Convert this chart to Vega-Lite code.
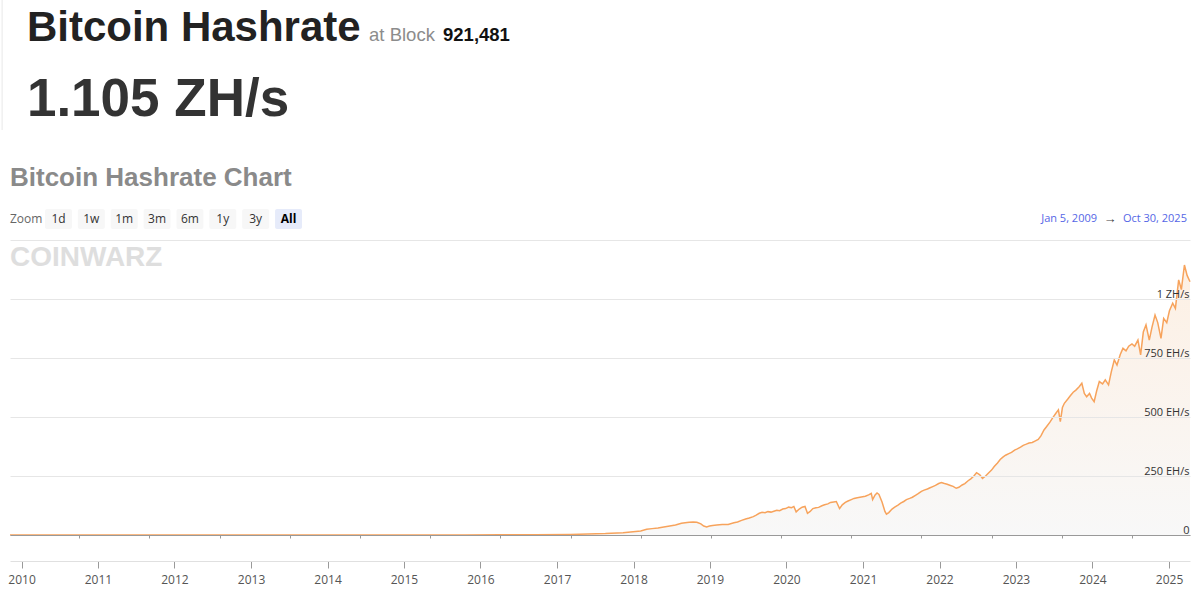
{
  "$schema": "https://vega.github.io/schema/vega-lite/v6.json",
  "width": 1180,
  "height": 295,
  "autosize": "none",
  "padding": {"left": 10, "top": 240, "right": 10, "bottom": 65},
  "background": "#ffffff",
  "config": {"view": {"stroke": null}, "font": "Open Sans"},
  "datasets": {
    "hashrate": [
      {"date": "2009-01-05", "hashrate": 0},
      {"date": "2010-01-01", "hashrate": 0},
      {"date": "2011-01-01", "hashrate": 0},
      {"date": "2012-01-01", "hashrate": 0.01},
      {"date": "2013-01-01", "hashrate": 0.02},
      {"date": "2014-01-01", "hashrate": 0.015},
      {"date": "2014-07-01", "hashrate": 0.12},
      {"date": "2015-01-01", "hashrate": 0.3},
      {"date": "2015-07-01", "hashrate": 0.4},
      {"date": "2016-01-01", "hashrate": 0.8},
      {"date": "2016-07-01", "hashrate": 1.4},
      {"date": "2017-01-01", "hashrate": 2.5},
      {"date": "2017-04-01", "hashrate": 4},
      {"date": "2017-07-01", "hashrate": 6},
      {"date": "2017-10-01", "hashrate": 10},
      {"date": "2018-01-01", "hashrate": 17},
      {"date": "2018-02-01", "hashrate": 24},
      {"date": "2018-03-01", "hashrate": 27},
      {"date": "2018-04-01", "hashrate": 30},
      {"date": "2018-05-01", "hashrate": 34},
      {"date": "2018-06-01", "hashrate": 38},
      {"date": "2018-07-01", "hashrate": 42},
      {"date": "2018-08-01", "hashrate": 50},
      {"date": "2018-08-20", "hashrate": 52},
      {"date": "2018-09-10", "hashrate": 54},
      {"date": "2018-10-01", "hashrate": 55},
      {"date": "2018-10-20", "hashrate": 54},
      {"date": "2018-11-10", "hashrate": 47},
      {"date": "2018-11-25", "hashrate": 38},
      {"date": "2018-12-10", "hashrate": 34},
      {"date": "2018-12-25", "hashrate": 38},
      {"date": "2019-01-10", "hashrate": 40},
      {"date": "2019-02-01", "hashrate": 42},
      {"date": "2019-03-01", "hashrate": 44},
      {"date": "2019-04-01", "hashrate": 45},
      {"date": "2019-05-01", "hashrate": 52},
      {"date": "2019-05-20", "hashrate": 55},
      {"date": "2019-06-10", "hashrate": 62},
      {"date": "2019-07-01", "hashrate": 68},
      {"date": "2019-07-20", "hashrate": 72},
      {"date": "2019-08-10", "hashrate": 78},
      {"date": "2019-08-25", "hashrate": 84},
      {"date": "2019-09-10", "hashrate": 92},
      {"date": "2019-09-25", "hashrate": 96},
      {"date": "2019-10-10", "hashrate": 94},
      {"date": "2019-10-25", "hashrate": 99},
      {"date": "2019-11-10", "hashrate": 97},
      {"date": "2019-11-25", "hashrate": 101},
      {"date": "2019-12-10", "hashrate": 105},
      {"date": "2019-12-25", "hashrate": 103},
      {"date": "2020-01-10", "hashrate": 110},
      {"date": "2020-01-25", "hashrate": 112},
      {"date": "2020-02-10", "hashrate": 118},
      {"date": "2020-02-25", "hashrate": 116},
      {"date": "2020-03-08", "hashrate": 121},
      {"date": "2020-03-20", "hashrate": 98},
      {"date": "2020-04-05", "hashrate": 110},
      {"date": "2020-04-20", "hashrate": 118},
      {"date": "2020-05-05", "hashrate": 121},
      {"date": "2020-05-18", "hashrate": 92},
      {"date": "2020-06-01", "hashrate": 100},
      {"date": "2020-06-15", "hashrate": 112},
      {"date": "2020-07-01", "hashrate": 115},
      {"date": "2020-07-15", "hashrate": 117},
      {"date": "2020-08-01", "hashrate": 124},
      {"date": "2020-08-15", "hashrate": 128},
      {"date": "2020-09-01", "hashrate": 132},
      {"date": "2020-09-15", "hashrate": 138},
      {"date": "2020-10-01", "hashrate": 140},
      {"date": "2020-10-15", "hashrate": 142},
      {"date": "2020-11-01", "hashrate": 112},
      {"date": "2020-11-15", "hashrate": 128},
      {"date": "2020-12-01", "hashrate": 138},
      {"date": "2020-12-15", "hashrate": 144},
      {"date": "2021-01-01", "hashrate": 150},
      {"date": "2021-01-15", "hashrate": 155},
      {"date": "2021-02-01", "hashrate": 158},
      {"date": "2021-02-15", "hashrate": 160},
      {"date": "2021-03-01", "hashrate": 162},
      {"date": "2021-03-15", "hashrate": 164},
      {"date": "2021-04-01", "hashrate": 170},
      {"date": "2021-04-15", "hashrate": 176},
      {"date": "2021-04-22", "hashrate": 150},
      {"date": "2021-05-05", "hashrate": 170},
      {"date": "2021-05-15", "hashrate": 178},
      {"date": "2021-05-25", "hashrate": 172},
      {"date": "2021-06-10", "hashrate": 140},
      {"date": "2021-06-25", "hashrate": 100},
      {"date": "2021-07-03", "hashrate": 88},
      {"date": "2021-07-15", "hashrate": 95},
      {"date": "2021-08-01", "hashrate": 110},
      {"date": "2021-08-15", "hashrate": 118},
      {"date": "2021-09-01", "hashrate": 127},
      {"date": "2021-09-15", "hashrate": 135},
      {"date": "2021-10-01", "hashrate": 142},
      {"date": "2021-10-15", "hashrate": 150},
      {"date": "2021-11-01", "hashrate": 155},
      {"date": "2021-11-15", "hashrate": 160},
      {"date": "2021-12-01", "hashrate": 168},
      {"date": "2021-12-15", "hashrate": 175},
      {"date": "2022-01-01", "hashrate": 185},
      {"date": "2022-01-15", "hashrate": 190},
      {"date": "2022-02-01", "hashrate": 195},
      {"date": "2022-02-15", "hashrate": 200},
      {"date": "2022-03-01", "hashrate": 205},
      {"date": "2022-03-15", "hashrate": 210},
      {"date": "2022-04-01", "hashrate": 218},
      {"date": "2022-04-15", "hashrate": 222},
      {"date": "2022-05-01", "hashrate": 218},
      {"date": "2022-05-15", "hashrate": 215},
      {"date": "2022-06-01", "hashrate": 210},
      {"date": "2022-06-15", "hashrate": 206},
      {"date": "2022-07-01", "hashrate": 198},
      {"date": "2022-07-15", "hashrate": 202},
      {"date": "2022-08-01", "hashrate": 212},
      {"date": "2022-08-15", "hashrate": 218},
      {"date": "2022-09-01", "hashrate": 230},
      {"date": "2022-09-15", "hashrate": 238},
      {"date": "2022-10-01", "hashrate": 250},
      {"date": "2022-10-15", "hashrate": 264},
      {"date": "2022-11-01", "hashrate": 255},
      {"date": "2022-11-15", "hashrate": 240},
      {"date": "2022-12-01", "hashrate": 250},
      {"date": "2022-12-15", "hashrate": 262},
      {"date": "2023-01-01", "hashrate": 275},
      {"date": "2023-01-15", "hashrate": 290},
      {"date": "2023-02-01", "hashrate": 305},
      {"date": "2023-02-15", "hashrate": 320},
      {"date": "2023-03-01", "hashrate": 330},
      {"date": "2023-03-15", "hashrate": 338},
      {"date": "2023-04-01", "hashrate": 345},
      {"date": "2023-04-15", "hashrate": 350},
      {"date": "2023-05-01", "hashrate": 360},
      {"date": "2023-05-15", "hashrate": 365},
      {"date": "2023-06-01", "hashrate": 372},
      {"date": "2023-06-15", "hashrate": 380},
      {"date": "2023-07-01", "hashrate": 385},
      {"date": "2023-07-15", "hashrate": 390},
      {"date": "2023-08-01", "hashrate": 392},
      {"date": "2023-08-15", "hashrate": 398},
      {"date": "2023-09-01", "hashrate": 405},
      {"date": "2023-09-15", "hashrate": 420},
      {"date": "2023-10-01", "hashrate": 445},
      {"date": "2023-10-15", "hashrate": 460},
      {"date": "2023-11-01", "hashrate": 478},
      {"date": "2023-11-15", "hashrate": 496},
      {"date": "2023-12-01", "hashrate": 515},
      {"date": "2023-12-15", "hashrate": 530},
      {"date": "2023-12-25", "hashrate": 480},
      {"date": "2024-01-05", "hashrate": 540},
      {"date": "2024-01-15", "hashrate": 558},
      {"date": "2024-02-01", "hashrate": 575},
      {"date": "2024-02-15", "hashrate": 590},
      {"date": "2024-03-01", "hashrate": 605},
      {"date": "2024-03-15", "hashrate": 614},
      {"date": "2024-04-01", "hashrate": 628},
      {"date": "2024-04-15", "hashrate": 643},
      {"date": "2024-04-28", "hashrate": 600},
      {"date": "2024-05-10", "hashrate": 586},
      {"date": "2024-05-25", "hashrate": 600},
      {"date": "2024-06-05", "hashrate": 580},
      {"date": "2024-06-18", "hashrate": 565},
      {"date": "2024-07-01", "hashrate": 610},
      {"date": "2024-07-15", "hashrate": 650},
      {"date": "2024-08-01", "hashrate": 640},
      {"date": "2024-08-15", "hashrate": 657},
      {"date": "2024-09-01", "hashrate": 636},
      {"date": "2024-09-15", "hashrate": 690},
      {"date": "2024-10-01", "hashrate": 742},
      {"date": "2024-10-15", "hashrate": 720},
      {"date": "2024-11-01", "hashrate": 765},
      {"date": "2024-11-15", "hashrate": 791},
      {"date": "2024-12-01", "hashrate": 780},
      {"date": "2024-12-15", "hashrate": 800},
      {"date": "2025-01-01", "hashrate": 810},
      {"date": "2025-01-15", "hashrate": 800},
      {"date": "2025-02-01", "hashrate": 826},
      {"date": "2025-02-15", "hashrate": 763},
      {"date": "2025-03-01", "hashrate": 860},
      {"date": "2025-03-15", "hashrate": 890},
      {"date": "2025-04-01", "hashrate": 826},
      {"date": "2025-04-15", "hashrate": 880},
      {"date": "2025-05-01", "hashrate": 932},
      {"date": "2025-05-15", "hashrate": 900},
      {"date": "2025-06-01", "hashrate": 833},
      {"date": "2025-06-15", "hashrate": 918},
      {"date": "2025-07-01", "hashrate": 900},
      {"date": "2025-07-15", "hashrate": 950},
      {"date": "2025-08-01", "hashrate": 982},
      {"date": "2025-08-15", "hashrate": 960},
      {"date": "2025-09-01", "hashrate": 1081},
      {"date": "2025-09-15", "hashrate": 1040},
      {"date": "2025-10-01", "hashrate": 1144},
      {"date": "2025-10-15", "hashrate": 1100},
      {"date": "2025-10-30", "hashrate": 1073}
    ],
    "buttons": [
      {"b": "1d"}, {"b": "1w"}, {"b": "1m"}, {"b": "3m"},
      {"b": "6m"}, {"b": "1y"}, {"b": "3y"}, {"b": "All"}
    ]
  },
  "layer": [
    {
      "data": {"name": "hashrate"},
      "layer": [
        {
          "mark": {
            "type": "area",
            "line": false,
            "fill": {
              "gradient": "linear", "x1": 0, "y1": 0, "x2": 0, "y2": 1,
              "stops": [
                {"offset": 0, "color": "#fdf0e4"},
                {"offset": 1, "color": "#f8f8f8"}
              ]
            }
          },
          "encoding": {
            "x": {
              "field": "date", "type": "temporal",
              "scale": {
                "type": "utc",
                "domain": [
                  {"year": 2009, "month": 1, "date": 5, "utc": true},
                  {"year": 2025, "month": 10, "date": 30, "utc": true}
                ]
              },
              "axis": {
                "orient": "bottom", "title": null, "labels": false, "grid": false,
                "domainColor": "#999999", "tickColor": "#999999", "tickSize": 3,
                "tickCount": {"interval": "year", "step": 1}, "zindex": 1
              }
            },
            "y": {
              "field": "hashrate", "type": "quantitative",
              "scale": {"domain": [0, 1250], "nice": false},
              "axis": {
                "orient": "right", "title": null, "values": [0, 250, 500, 750, 1000, 1250],
                "grid": true, "gridColor": "#e6e6e6", "domain": false, "ticks": false, "tickSize": 0,
                "labelAlign": "right", "labelPadding": -1, "labelBaseline": "alphabetic", "labelOffset": -2,
                "labelFont": "Open Sans", "labelFontSize": 11, "labelColor": "#333333", "zindex": 1,
                "labelExpr": "datum.value == 0 ? '0' : datum.value == 1250 ? '' : datum.value >= 1000 ? (datum.value / 1000) + ' ZH/s' : datum.value + ' EH/s'"
              }
            }
          }
        },
        {
          "mark": {"type": "line", "color": "#f7a35c", "strokeWidth": 1.5},
          "encoding": {
            "x": {"field": "date", "type": "temporal"},
            "y": {"field": "hashrate", "type": "quantitative"}
          }
        },
        {
          "data": {"values": [{}]},
          "mark": {"type": "text", "text": "COINWARZ", "align": "left", "baseline": "middle", "font": "Liberation Sans", "fontSize": 28, "fontWeight": "bold", "letterSpacing": -1, "color": "#dedede"},
          "encoding": {
            "x": {"datum": {"year": 2009, "month": 1, "date": 5, "utc": true}, "type": "temporal"},
            "y": {"datum": 1175, "type": "quantitative"}
          }
        },
        {
          "data": {"values": [{}]},
          "mark": {"type": "text", "text": "Bitcoin Hashrate", "align": "left", "baseline": "alphabetic", "font": "Liberation Sans", "fontSize": 42, "fontWeight": "bold", "color": "#222222"},
          "encoding": {
            "x": {"datum": {"year": 2009, "month": 4, "date": 3, "utc": true}, "type": "temporal"},
            "y": {"datum": 2093, "type": "quantitative"}
          }
        },
        {
          "data": {"values": [{}]},
          "mark": {"type": "text", "text": "at Block", "align": "left", "baseline": "alphabetic", "font": "Liberation Sans", "fontSize": 18.5, "color": "#8c8c8c"},
          "encoding": {
            "x": {"datum": {"year": 2014, "month": 2, "date": 17, "utc": true}, "type": "temporal"},
            "y": {"datum": 2093, "type": "quantitative"}
          }
        },
        {
          "data": {"values": [{}]},
          "mark": {"type": "text", "text": "921,481", "align": "left", "baseline": "alphabetic", "font": "Liberation Sans", "fontSize": 18.5, "fontWeight": "bold", "color": "#111111"},
          "encoding": {
            "x": {"datum": {"year": 2015, "month": 3, "date": 9, "utc": true}, "type": "temporal"},
            "y": {"datum": 2093, "type": "quantitative"}
          }
        },
        {
          "data": {"values": [{}]},
          "mark": {"type": "text", "text": "1.105 ZH/s", "align": "left", "baseline": "alphabetic", "font": "Liberation Sans", "fontSize": 53, "fontWeight": "bold", "color": "#333333"},
          "encoding": {
            "x": {"datum": {"year": 2009, "month": 4, "date": 3, "utc": true}, "type": "temporal"},
            "y": {"datum": 1775, "type": "quantitative"}
          }
        },
        {
          "data": {"values": [{}]},
          "mark": {"type": "text", "text": "Bitcoin Hashrate Chart", "align": "left", "baseline": "alphabetic", "font": "Liberation Sans", "fontSize": 26, "fontWeight": "bold", "letterSpacing": 2, "color": "#8a8a8a"},
          "encoding": {
            "x": {"datum": {"year": 2009, "month": 1, "date": 5, "utc": true}, "type": "temporal"},
            "y": {"datum": 1479, "type": "quantitative"}
          }
        },
        {
          "data": {"values": [{}]},
          "mark": {"type": "text", "text": "Zoom", "align": "left", "baseline": "middle", "font": "Open Sans", "fontSize": 12, "color": "#666666"},
          "encoding": {
            "x": {"datum": {"year": 2009, "month": 1, "date": 5, "utc": true}, "type": "temporal"},
            "y": {"datum": 1339, "type": "quantitative"}
          }
        },
        {
          "data": {"values": [{}]},
          "mark": {"type": "text", "text": "Jan 5, 2009", "align": "right", "baseline": "middle", "font": "Open Sans", "fontSize": 11, "color": "#5566e6"},
          "encoding": {
            "x": {"datum": {"year": 2024, "month": 7, "date": 3, "utc": true}, "type": "temporal"},
            "y": {"datum": 1339, "type": "quantitative"}
          }
        },
        {
          "data": {"values": [{}]},
          "mark": {"type": "text", "text": "→", "align": "center", "baseline": "middle", "font": "Open Sans", "fontSize": 13, "color": "#444444"},
          "encoding": {
            "x": {"datum": {"year": 2024, "month": 9, "date": 9, "utc": true}, "type": "temporal"},
            "y": {"datum": 1339, "type": "quantitative"}
          }
        },
        {
          "data": {"values": [{}]},
          "mark": {"type": "text", "text": "Oct 30, 2025", "align": "right", "baseline": "middle", "font": "Open Sans", "fontSize": 11, "color": "#5566e6"},
          "encoding": {
            "x": {"datum": {"year": 2025, "month": 10, "date": 14, "utc": true}, "type": "temporal"},
            "y": {"datum": 1339, "type": "quantitative"}
          }
        },
        {
          "data": {"values": [{}]},
          "mark": {"type": "rule", "color": "#e8e8e8", "strokeWidth": 1},
          "encoding": {
            "x": {"datum": {"year": 2008, "month": 11, "date": 25, "utc": true}, "type": "temporal"},
            "y": {"datum": 2267, "type": "quantitative"},
            "y2": {"datum": 1716}
          }
        }
      ]
    },
    {
      "data": {"values": [{}]},
      "mark": {"type": "point", "opacity": 0},
      "encoding": {
        "x": {
          "datum": {"year": 2015, "month": 1, "date": 1, "utc": true}, "type": "temporal",
          "scale": {
            "type": "utc",
            "domain": [
              {"year": 2009, "month": 11, "date": 7, "utc": true},
              {"year": 2025, "month": 4, "date": 11, "utc": true}
            ]
          },
          "axis": {
            "orient": "bottom", "offset": 26, "title": null, "format": "%Y",
            "tickCount": {"interval": "year", "step": 1}, "grid": false,
            "domainColor": "#e0e0e0", "tickColor": "#999999", "tickSize": 7,
            "labelPadding": 6, "labelFontSize": 12, "labelColor": "#555555",
            "labelFont": "Open Sans", "labelFlush": false
          }
        },
        "y": {"datum": 0, "type": "quantitative", "axis": null, "scale": {"domain": [0, 1]}}
      }
    },
    {
      "data": {"name": "buttons"},
      "layer": [
        {
          "mark": {"type": "rect", "cornerRadius": 2},
          "encoding": {
            "x": {
              "field": "b", "type": "nominal", "sort": null, "axis": null,
              "scale": {
                "type": "band",
                "domain": ["1d", "1w", "1m", "3m", "6m", "1y", "3y", "All"],
                "range": [35, 292], "paddingInner": 0.18, "paddingOuter": 0
              }
            },
            "y": {"datum": 1381, "type": "quantitative", "axis": null, "scale": {"domain": [0, 1250], "nice": false}},
            "y2": {"datum": 1297},
            "fill": {"condition": {"test": "datum.b === 'All'", "value": "#e6ebfa"}, "value": "#f7f7f7"}
          }
        },
        {
          "transform": [{"filter": "datum.b !== 'All'"}],
          "mark": {"type": "text", "baseline": "middle", "align": "center", "font": "Open Sans", "fontSize": 12, "color": "#333333"},
          "encoding": {
            "x": {"field": "b", "type": "nominal"},
            "y": {"datum": 1339, "type": "quantitative"},
            "text": {"field": "b"}
          }
        },
        {
          "transform": [{"filter": "datum.b === 'All'"}],
          "mark": {"type": "text", "baseline": "middle", "align": "center", "font": "Open Sans", "fontSize": 12, "fontWeight": "bold", "color": "#000000"},
          "encoding": {
            "x": {"field": "b", "type": "nominal"},
            "y": {"datum": 1339, "type": "quantitative"},
            "text": {"field": "b"}
          }
        }
      ]
    }
  ],
  "resolve": {
    "scale": {"x": "independent", "y": "independent"},
    "axis": {"x": "independent", "y": "independent"}
  }
}
